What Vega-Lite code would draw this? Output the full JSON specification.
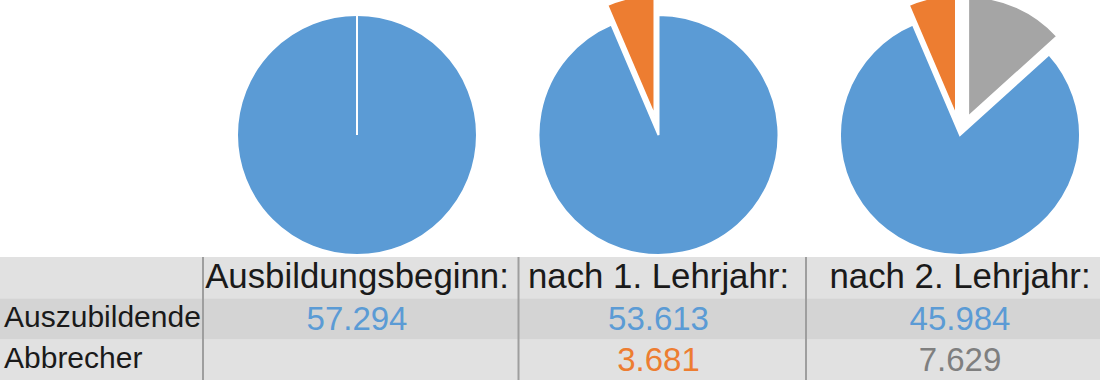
{
  "$schema": "https://vega.github.io/schema/vega-lite/v6.json",
  "padding": 0,
  "spacing": 0,
  "background": "white",
  "resolve": {"scale": {"color": "independent"}},
  "config": {
    "view": {"stroke": null},
    "locale": {"number": {"decimal": ",", "thousands": ".", "grouping": [3], "currency": ["", " €"]}},
    "text": {"font": "Liberation Sans"}
  },
  "datasets": {
    "slices": [
      {"stage": "Ausbildungsbeginn:", "part": "Auszubildende", "value": 57294, "order": 2},
      {"stage": "Ausbildungsbeginn:", "part": "Abbrecher 1. Lehrjahr", "value": 0, "order": 3},
      {"stage": "nach 1. Lehrjahr:", "part": "Auszubildende", "value": 53613, "order": 2},
      {"stage": "nach 1. Lehrjahr:", "part": "Abbrecher 1. Lehrjahr", "value": 3681, "order": 3},
      {"stage": "nach 2. Lehrjahr:", "part": "Abbrecher 2. Lehrjahr", "value": 7629, "order": 1},
      {"stage": "nach 2. Lehrjahr:", "part": "Auszubildende", "value": 45984, "order": 2},
      {"stage": "nach 2. Lehrjahr:", "part": "Abbrecher 1. Lehrjahr", "value": 3681, "order": 3}
    ],
    "stages": [
      {"stage": "Ausbildungsbeginn:"},
      {"stage": "nach 1. Lehrjahr:"},
      {"stage": "nach 2. Lehrjahr:"}
    ],
    "rows": [
      {"row": "Kopf", "label": ""},
      {"row": "Auszubildende", "label": "Auszubildende"},
      {"row": "Abbrecher", "label": "Abbrecher"}
    ],
    "table": [
      {"stage": "Ausbildungsbeginn:", "row": "Auszubildende", "part": "Auszubildende", "value": 57294},
      {"stage": "nach 1. Lehrjahr:", "row": "Auszubildende", "part": "Auszubildende", "value": 53613},
      {"stage": "nach 1. Lehrjahr:", "row": "Abbrecher", "part": "Abbrecher 1. Lehrjahr", "value": 3681},
      {"stage": "nach 2. Lehrjahr:", "row": "Auszubildende", "part": "Auszubildende", "value": 45984},
      {"stage": "nach 2. Lehrjahr:", "row": "Abbrecher", "part": "Abbrecher 2. Lehrjahr", "value": 7629}
    ]
  },
  "vconcat": [
    {
      "width": 1100,
      "height": 256,
      "data": {"name": "slices"},
      "transform": [
        {"stack": "value", "groupby": ["stage"], "sort": [{"field": "order", "order": "ascending"}], "as": ["v0", "v1"]}
      ],
      "mark": {
        "type": "arc",
        "outerRadius": 120,
        "stroke": "white",
        "strokeWidth": 2,
        "clip": true,
        "xOffset": {"expr": "(datum.part === 'Auszubildende' || datum.value === 0) ? 0 : 20 * sin(PI * (datum.v0 + datum.v1) / 57294)"},
        "yOffset": {"expr": "7 - ((datum.part === 'Auszubildende' || datum.value === 0) ? 0 : 20 * cos(PI * (datum.v0 + datum.v1) / 57294))"}
      },
      "encoding": {
        "x": {
          "field": "stage", "type": "nominal", "axis": null,
          "scale": {"type": "point", "domain": ["Zeile", "Ausbildungsbeginn:", "nach 1. Lehrjahr:", "nach 2. Lehrjahr:"], "padding": 0.3242, "align": 0.2839}
        },
        "theta": {"field": "v0", "type": "quantitative", "stack": null, "scale": {"domain": [0, 57294], "range": [0, 6.283185307179586], "nice": false, "zero": true}},
        "theta2": {"field": "v1"},
        "color": {
          "field": "part", "type": "nominal", "legend": null,
          "scale": {"domain": ["Auszubildende", "Abbrecher 1. Lehrjahr", "Abbrecher 2. Lehrjahr"], "range": ["#5B9BD5", "#ED7D31", "#A5A5A5"]}
        }
      }
    },
    {
      "width": 1100,
      "height": 124,
      "layer": [
        {
          "data": {"name": "rows"},
          "mark": {"type": "rect"},
          "encoding": {
            "y": {"field": "row", "type": "nominal", "axis": null, "scale": {"type": "band", "domain": ["Kopf", "Auszubildende", "Abbrecher"], "paddingInner": 0, "paddingOuter": 0}},
            "fill": {"field": "row", "type": "nominal", "legend": null, "scale": {"domain": ["Kopf", "Auszubildende", "Abbrecher"], "range": ["#E1E1E1", "#D4D4D4", "#E1E1E1"]}}
          }
        },
        {
          "data": {"name": "stages"},
          "mark": {"type": "rule", "color": "#9E9E9E", "strokeWidth": 2,
            "xOffset": {"expr": "datum.stage === 'nach 1. Lehrjahr:' ? -140 : -154"}},
          "encoding": {
            "x": {
              "field": "stage", "type": "nominal", "axis": null,
              "scale": {"type": "point", "domain": ["Zeile", "Ausbildungsbeginn:", "nach 1. Lehrjahr:", "nach 2. Lehrjahr:"], "padding": 0.3242, "align": 0.2839}
            }
          }
        },
        {
          "data": {"name": "stages"},
          "mark": {"type": "text", "fontSize": 34.8, "color": "#1A1A1A", "baseline": "alphabetic", "dy": 10, "align": "center"},
          "encoding": {
            "x": {
              "field": "stage", "type": "nominal", "axis": null,
              "scale": {"type": "point", "domain": ["Zeile", "Ausbildungsbeginn:", "nach 1. Lehrjahr:", "nach 2. Lehrjahr:"], "padding": 0.3242, "align": 0.2839}
            },
            "y": {"datum": "Kopf", "type": "nominal", "axis": null, "scale": {"type": "band", "domain": ["Kopf", "Auszubildende", "Abbrecher"], "paddingInner": 0, "paddingOuter": 0}},
            "text": {"field": "stage"}
          }
        },
        {
          "data": {"name": "rows"},
          "transform": [{"filter": "datum.label !== ''"}],
          "mark": {"type": "text", "fontSize": 30, "color": "#1A1A1A", "baseline": "alphabetic", "dy": 8, "align": "left", "xOffset": -51.5},
          "encoding": {
            "x": {
              "datum": "Zeile", "type": "nominal", "axis": null,
              "scale": {"type": "point", "domain": ["Zeile", "Ausbildungsbeginn:", "nach 1. Lehrjahr:", "nach 2. Lehrjahr:"], "padding": 0.3242, "align": 0.2839}
            },
            "y": {"field": "row", "type": "nominal", "axis": null, "scale": {"type": "band", "domain": ["Kopf", "Auszubildende", "Abbrecher"], "paddingInner": 0, "paddingOuter": 0}},
            "text": {"field": "label"}
          }
        },
        {
          "data": {"name": "table"},
          "mark": {"type": "text", "fontSize": 33, "baseline": "alphabetic", "dy": 11, "align": "center"},
          "encoding": {
            "x": {
              "field": "stage", "type": "nominal", "axis": null,
              "scale": {"type": "point", "domain": ["Zeile", "Ausbildungsbeginn:", "nach 1. Lehrjahr:", "nach 2. Lehrjahr:"], "padding": 0.3242, "align": 0.2839}
            },
            "y": {"field": "row", "type": "nominal", "axis": null, "scale": {"type": "band", "domain": ["Kopf", "Auszubildende", "Abbrecher"], "paddingInner": 0, "paddingOuter": 0}},
            "text": {"field": "value", "type": "quantitative", "format": ",d"},
            "color": {
              "field": "part", "type": "nominal", "legend": null,
              "scale": {"domain": ["Auszubildende", "Abbrecher 1. Lehrjahr", "Abbrecher 2. Lehrjahr"], "range": ["#5B9BD5", "#ED7D31", "#7F7F7F"]}
            }
          }
        }
      ]
    }
  ]
}
